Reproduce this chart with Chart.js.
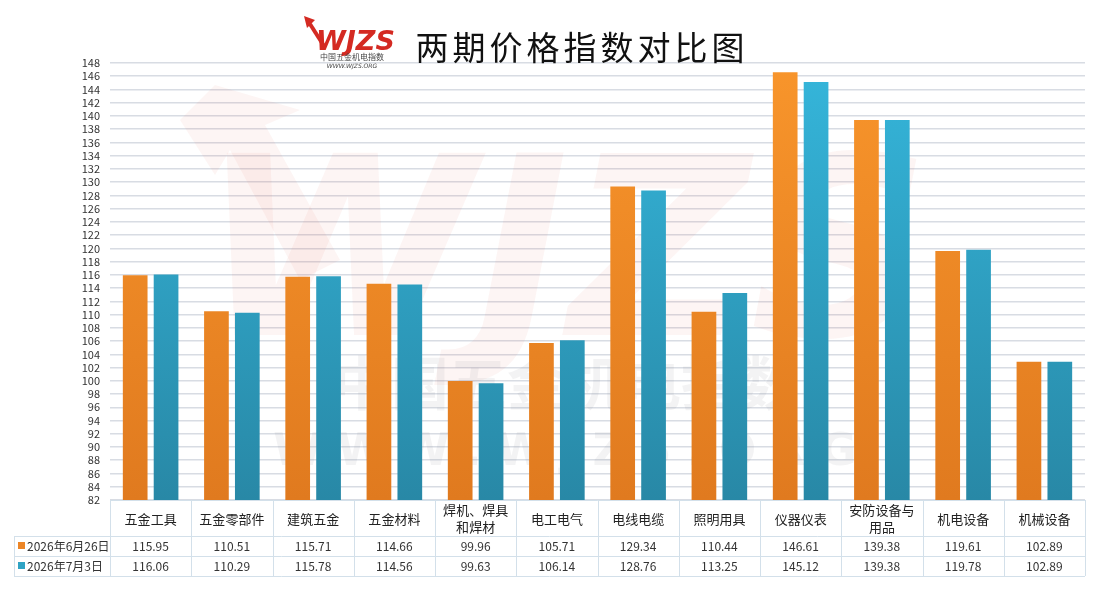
<!DOCTYPE html>
<html><head><meta charset="utf-8">
<script src="https://cdn.jsdelivr.net/npm/chart.js@4.4.1/dist/chart.umd.min.js"></script>
<style>html,body{margin:0;padding:0;background:#fff}#wrap{width:1098px;height:591px;position:relative}</style>
</head><body><div id="wrap"><canvas id="c" width="1098" height="591"></canvas></div>
<script>
const categories = ["五金工具","五金零部件","建筑五金","五金材料","焊机、焊具\n和焊材","电工电气","电线电缆","照明用具","仪器仪表","安防设备与\n用品","机电设备","机械设备"];
const seriesNames = ["2026年6月26日","2026年7月3日"];
const seriesA = [115.95,110.51,115.71,114.66,99.96,105.71,129.34,110.44,146.61,139.38,119.61,102.89];
const seriesB = [116.06,110.29,115.78,114.56,99.63,106.14,128.76,113.25,145.12,139.38,119.78,102.89];
const yMin = 82, yMax = 148, yStep = 2;
const titleText = "两期价格指数对比图";

const FONT = "'Microsoft YaHei','Noto Sans CJK SC','Noto Sans',sans-serif";

function grad(ctx, area, top, bottom){
  if(!area) return top;
  const g = ctx.createLinearGradient(0, area.top, 0, area.bottom);
  g.addColorStop(0, top); g.addColorStop(1, bottom);
  return g;
}

const decor = {
  id:'decor',
  beforeDatasetsDraw(chart){
    const ctx = chart.ctx;
    ctx.save();
    ctx.fillStyle = 'rgba(225,70,60,0.055)';
    ctx.font = "italic bold 250px 'DejaVu Sans',sans-serif";
    ctx.textBaseline = 'alphabetic';
    ctx.textAlign = 'left';
    ctx.fillText('WJZS', 200, 335);
    // arrow watermark
    ctx.beginPath();
    ctx.moveTo(180,120); ctx.lineTo(215,85); ctx.lineTo(300,110); ctx.lineTo(265,125); ctx.lineTo(340,260); ctx.lineTo(300,280); ctx.lineTo(230,150); ctx.lineTo(215,175);
    ctx.closePath(); ctx.fill();
    ctx.fillStyle = 'rgba(120,120,130,0.085)';
    ctx.font = "bold 58px " + FONT;
    ctx.textAlign = 'center';
    ctx.fillText('中国五金机电指数', 565, 405);
    ctx.font = "bold 44px 'DejaVu Sans',sans-serif";
    ctx.fillText('W W W . W J Z S . O R G', 565, 465);
    ctx.restore();
  },
  afterDraw(chart){
    const ctx = chart.ctx, a = chart.chartArea, xs = chart.scales.x;
    ctx.save();
    // logo
    ctx.fillStyle = '#d42a22';
    ctx.font = "italic bold 27px 'DejaVu Sans',sans-serif";
    ctx.textAlign = 'left'; ctx.textBaseline = 'alphabetic';
    ctx.fillText('WJZS', 316, 50);
    ctx.strokeStyle = '#d42a22'; ctx.lineWidth = 4;
    ctx.beginPath(); ctx.moveTo(310,24); ctx.lineTo(324,46); ctx.stroke();
    ctx.beginPath(); ctx.moveTo(304,16); ctx.lineTo(315,20); ctx.lineTo(307,28); ctx.closePath(); ctx.fill();
    ctx.fillStyle = '#444';
    ctx.font = "8px " + FONT; ctx.textAlign='center';
    ctx.fillText('中国五金机电指数', 352, 60);
    ctx.font = "italic 6px 'DejaVu Sans',sans-serif";
    ctx.fillText('WWW.WJZS.ORG', 352, 68);
    // title
    ctx.fillStyle = '#111';
    ctx.font = "400 33px 'Noto Sans CJK SC',sans-serif";
    ctx.letterSpacing = '4px';
    ctx.textAlign = 'center'; ctx.textBaseline = 'middle';
    ctx.fillText(titleText, 582, 47);
    ctx.letterSpacing = '0px';

    // table
    const n = categories.length;
    const cw = (a.right - a.left) / n;
    const t0 = a.bottom, t1 = t0 + 36, t2 = t1 + 20, t3 = t2 + 20;
    const leftX = 14;
    ctx.strokeStyle = '#d3e0ea'; ctx.lineWidth = 1;
    ctx.beginPath();
    ctx.moveTo(a.left, t0+0.5); ctx.lineTo(a.right, t0+0.5);
    [t1,t2,t3].forEach(y=>{ctx.moveTo(leftX, y+0.5); ctx.lineTo(a.right, y+0.5);});
    ctx.moveTo(leftX+0.5, t1); ctx.lineTo(leftX+0.5, t3);
    for(let i=0;i<=n;i++){
      const x = Math.round(a.left + i*cw)+0.5;
      ctx.moveTo(x, t0); ctx.lineTo(x, t3);
    }
    ctx.stroke();
    ctx.fillStyle = '#222';
    ctx.textAlign = 'center'; ctx.textBaseline = 'middle';
    ctx.font = "13px " + FONT;
    categories.forEach((c,i)=>{
      const x = xs.getPixelForValue(i);
      const lines = c.split('\n');
      if(lines.length===1) ctx.fillText(c, x, (t0+t1)/2+1);
      else { ctx.fillText(lines[0], x, t0+10); ctx.fillText(lines[1], x, t0+27); }
    });
    ctx.font = "12px " + FONT;
    ctx.fillStyle = '#333';
    const rows = [[seriesA,t1,'#ec8526'],[seriesB,t2,'#2fa3c4']];
    rows.forEach(([vals,y,col],r)=>{
      vals.forEach((v,i)=>{ ctx.fillText(v.toFixed(2), xs.getPixelForValue(i), y+10.5); });
      ctx.fillStyle = col; ctx.fillRect(18, y+6, 7, 7);
      ctx.fillStyle = '#333'; ctx.textAlign='left';
      ctx.fillText(seriesNames[r], 27, y+10.5);
      ctx.textAlign='center';
    });
    ctx.restore();
  }
};

const ctx = document.getElementById('c').getContext('2d');
new Chart(ctx, {
  type:'bar',
  data:{
    labels: categories.map(c=>c.replace('\n','')),
    datasets:[
      {label:seriesNames[0], data:seriesA,
       backgroundColor:(c)=>grad(c.chart.ctx,c.chart.chartArea,'#f8952b','#e07a1f'),
       categoryPercentage:0.76, barPercentage:0.8},
      {label:seriesNames[1], data:seriesB,
       backgroundColor:(c)=>grad(c.chart.ctx,c.chart.chartArea,'#35b6db','#2888a6'),
       categoryPercentage:0.76, barPercentage:0.8}
    ]
  },
  options:{
    responsive:false, animation:false,
    layout:{padding:{left:0,right:13,top:63,bottom:91}},
    plugins:{legend:{display:false},title:{display:false},tooltip:{enabled:false}},
    scales:{
      x:{display:false, grid:{display:false}},
      y:{min:yMin,max:yMax,
         ticks:{stepSize:yStep,autoSkip:false,color:'#333',font:{size:11,family:FONT},padding:10},
         grid:{color:'#d8dce3',lineWidth:1.6,drawTicks:false},
         border:{display:false},
         afterFit(s){ s.width = 110; }
      }
    }
  },
  plugins:[decor]
});
</script></body></html>
